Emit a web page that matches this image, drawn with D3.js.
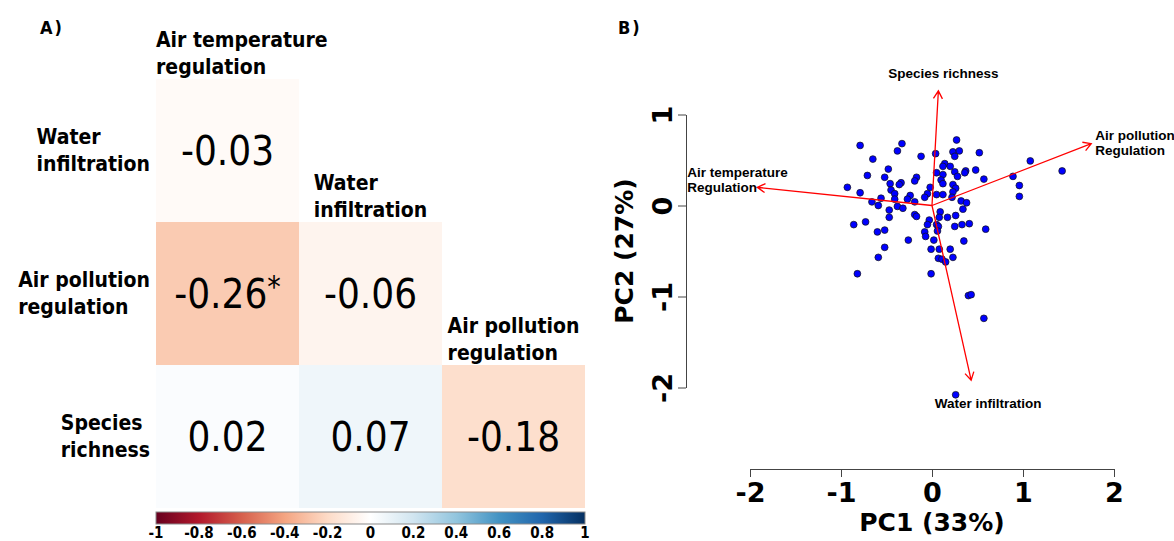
<!DOCTYPE html>
<html>
<head>
<meta charset="utf-8">
<script src="https://cdn.jsdelivr.net/npm/d3@7"></script>
<style>
  body { margin: 0; background: #fff; }
  svg { display: block; }
</style>
</head>
<body>
<div id="chart"></div>
<script>
// ---- Panel A data: correlation matrix (lower triangle) ----
const colVars = ['Air temperature regulation', 'Water infiltration', 'Air pollution regulation'];
const rowVars = ['Water infiltration', 'Air pollution regulation', 'Species richness'];
const colLines = [['Air temperature', 'regulation'], ['Water', 'infiltration'], ['Air pollution', 'regulation']];
const rowLines = [['Water', 'infiltration'], ['Air pollution', 'regulation'], ['Species', 'richness']];

const cellRow = [0, 1, 1, 2, 2, 2];
const cellCol = [0, 0, 1, 0, 1, 2];
const cellValue = [-0.03, -0.26, -0.06, 0.02, 0.07, -0.18];
const cellSig = [false, true, false, false, false, false];

const colorbarTicks = [-1, -0.8, -0.6, -0.4, -0.2, 0, 0.2, 0.4, 0.6, 0.8, 1];
const rdbuDomain = [-1, -0.8, -0.6, -0.4, -0.2, 0, 0.2, 0.4, 0.6, 0.8, 1];
const rdbuColors = ['#67001F', '#B2182B', '#D6604D', '#F4A582', '#FDDBC7', '#FFFFFF',
                    '#D1E5F0', '#92C5DE', '#4393C3', '#2166AC', '#053061'];

// ---- Panel B data: PCA scores and loadings ----
const pc1 = [
  -0.79, -0.33, -0.38, -0.65, -0.12, -0.48, -0.71, -0.52, -0.17, -0.19,
  -0.46, -0.34, -0.36, -0.93, -0.45, -0.79, -0.41, -0.24, -0.02, -0.05,
  -0.08, -0.56, -0.27, -0.41, -0.19, -0.66, -0.59, -0.38, -0.32, -0.47,
  0.27, 0.04, 0.23, 0.30, 0.25, 0.52, 1.08, 0.14, 0.12, 0.20,
  0.05, 0.12, 0.25, 0.37, 0.36, 0.48, 0.28, 0.10, 0.12, 0.23,
  0.57, 0.89, 0.96, 0.26, 0.23, 0.05, 0.12, 0.22, 0.96, 0.32,
  0.38, 0.34, 1.43,
  -0.47, -0.19, -0.17, -0.86, -0.73, -0.03, -0.05, -0.60, -0.52, -0.08,
  -0.07, 0.02, -0.26, -0.52, -0.01, -0.59, -0.82, -0.01,
  0.09, 0.08, 0.17, 0.26, 0.05, 0.07, 0.25, 0.33, 0.41, 0.06,
  0.59, 0.35, 0.08, 0.20, 0.07, 0.11, 0.15, 0.23,
  0.40, 0.43, 0.57, 0.26
];
const pc2 = [
  0.66, 0.68, 0.60, 0.51, 0.54, 0.40, 0.33, 0.31, 0.31, 0.27,
  0.24, 0.25, 0.23, 0.20, 0.17, 0.14, 0.13, 0.11, 0.20, 0.13,
  0.09, 0.08, 0.07, 0.07, 0.04, 0.04, 0.00, -0.01, -0.03, -0.05,
  0.72, 0.57, 0.59, 0.60, 0.54, 0.58, 0.49, 0.46, 0.43, 0.43,
  0.36, 0.34, 0.37, 0.38, 0.36, 0.39, 0.32, 0.28, 0.24, 0.23,
  0.29, 0.32, 0.22, 0.19, 0.15, 0.12, 0.12, 0.09, 0.10, 0.05,
  0.03, -0.04, 0.38,
  -0.13, -0.10, -0.12, -0.21, -0.18, -0.16, -0.21, -0.29, -0.27, -0.29,
  -0.34, -0.38, -0.38, -0.46, -0.48, -0.57, -0.75, -0.75,
  -0.07, -0.13, -0.13, -0.11, -0.21, -0.23, -0.23, -0.21, -0.20, -0.28,
  -0.26, -0.39, -0.48, -0.48, -0.58, -0.59, -0.62, -0.57,
  -0.99, -0.98, -1.24, -2.08
];

const loadVars = ['Air temperature', 'Water infiltration', 'Air pollution', 'Species richness'];
const loadLines = [['Air temperature', 'Regulation'], ['Water infiltration'], ['Air pollution', 'Regulation'], ['Species richness']];
const loadPC1 = [-1.92, 0.43, 1.75, 0.07];
const loadPC2 = [0.20, -1.92, 0.68, 1.26];

const xTicks = [-2, -1, 0, 1, 2];
const yTicks = [-2, -1, 0, 1];

// ---- Setup ----
const width = 1174, height = 541;
const fontA = "'DejaVu Sans Condensed', 'DejaVu Sans', sans-serif";
const fontB = "'DejaVu Sans', sans-serif";
const fontLbl = "'Liberation Sans', Arial, sans-serif";

const svg = d3.select('#chart').append('svg')
    .attr('width', width)
    .attr('height', height);

svg.append('rect').attr('width', width).attr('height', height).attr('fill', '#fff');

// =================== Panel A ===================
const gA = svg.append('g');

const xBand = d3.scaleBand().domain(colVars).range([156, 585]);
const yBand = d3.scaleBand().domain(rowVars).range([79, 508]);
const corrColor = d3.scaleLinear().domain(rdbuDomain).range(rdbuColors);

gA.append('text')
    .attr('x', 40).attr('y', 34)
    .attr('font-family', fontA).attr('font-stretch', 'condensed')
    .attr('font-weight', 'bold').attr('font-size', 18)
    .attr('letter-spacing', 2)
    .text('A)');

// cells
cellValue.forEach((v, i) => {
    const cx = xBand(colVars[cellCol[i]]);
    const cy = yBand(rowVars[cellRow[i]]);
    gA.append('rect')
        .attr('x', cx).attr('y', cy)
        .attr('width', xBand.bandwidth()).attr('height', yBand.bandwidth())
        .attr('fill', corrColor(v));

    const t = gA.append('text')
        .attr('x', cx + xBand.bandwidth() / 2)
        .attr('y', cy + yBand.bandwidth() / 2 + 14)
        .attr('text-anchor', 'middle')
        .attr('font-family', fontA).attr('font-stretch', 'condensed')
        .attr('font-size', 40)
        .attr('fill', '#000');
    t.append('tspan').text(v.toFixed(2));
    if (cellSig[i]) {
        t.append('tspan').attr('font-size', 30).attr('dy', -11).text('*');
    }
});

// row labels: left-aligned block, right edge next to the grid
rowVars.forEach((name, i) => {
    const t = gA.append('text')
        .attr('font-family', fontA).attr('font-stretch', 'condensed')
        .attr('font-weight', 'bold').attr('font-size', 21);
    const mid = yBand(name) + yBand.bandwidth() / 2;
    const spans = rowLines[i].map((line, k) =>
        t.append('tspan').attr('y', mid - 7 + k * 27.5).text(line));
    const maxW = d3.max(spans, s => s.node().getComputedTextLength());
    spans.forEach(s => s.attr('x', xBand.range()[0] - 6 - maxW));
});

// column labels: sit just above the first cell of each column
colVars.forEach((name, j) => {
    const t = gA.append('text')
        .attr('font-family', fontA).attr('font-stretch', 'condensed')
        .attr('font-weight', 'bold').attr('font-size', 21);
    const top = yBand(rowVars[j]);
    const n = colLines[j].length;
    const spans = colLines[j].map((line, k) =>
        t.append('tspan').attr('y', top - 5 - (n - 1 - k) * 27).text(line));
    const maxW = d3.max(spans, s => s.node().getComputedTextLength());
    const left = xBand(name);
    const center = left + xBand.bandwidth() / 2;
    spans.forEach(s => s.attr('x', Math.max(left, center - maxW / 2)));
});

// colour bar
const cbScale = d3.scaleLinear().domain([-1, 1]).range([156, 585]);
const defs = svg.append('defs');
const grad = defs.append('linearGradient').attr('id', 'rdbu')
    .attr('x1', '0%').attr('x2', '100%').attr('y1', '0%').attr('y2', '0%');
rdbuDomain.forEach((d, i) => {
    grad.append('stop')
        .attr('offset', ((d + 1) / 2 * 100) + '%')
        .attr('stop-color', rdbuColors[i]);
});
gA.append('rect')
    .attr('x', cbScale(-1)).attr('y', 512)
    .attr('width', cbScale(1) - cbScale(-1)).attr('height', 12)
    .attr('fill', 'url(#rdbu)')
    .attr('stroke', '#8a8a8a').attr('stroke-width', 1);

gA.selectAll('.cb-label')
    .data(colorbarTicks)
    .enter()
    .append('text')
    .attr('class', 'cb-label')
    .attr('x', d => cbScale(d))
    .attr('y', 538)
    .attr('text-anchor', 'middle')
    .attr('font-family', fontA).attr('font-stretch', 'condensed')
    .attr('font-weight', 'bold').attr('font-size', 15)
    .text(d => String(d));

// =================== Panel B ===================
const gB = svg.append('g');

const xScale = d3.scaleLinear().domain([-2, 2]).range([750, 1114]);
const yScale = d3.scaleLinear().domain([-2, 1]).range([387.5, 114.5]);

gB.append('text')
    .attr('x', 618).attr('y', 34)
    .attr('font-family', fontA).attr('font-stretch', 'condensed')
    .attr('font-weight', 'bold').attr('font-size', 18)
    .attr('letter-spacing', 2)
    .text('B)');

// x axis
const xAxisG = gB.append('g')
    .attr('transform', 'translate(0,469)')
    .call(d3.axisBottom(xScale)
        .tickValues(xTicks)
        .tickSize(8)
        .tickSizeOuter(0)
        .tickPadding(6)
        .tickFormat(d => String(d)));
xAxisG.selectAll('path, line').attr('stroke', '#444');
xAxisG.selectAll('text')
    .attr('font-family', fontB).attr('font-weight', 'bold')
    .attr('font-size', 27).attr('fill', '#000');

// y axis
const yAxisG = gB.append('g')
    .attr('transform', 'translate(686,0)')
    .call(d3.axisLeft(yScale)
        .tickValues(yTicks)
        .tickSize(8)
        .tickSizeOuter(0)
        .tickFormat(d => String(d)));
yAxisG.selectAll('path, line').attr('stroke', '#444');
yAxisG.selectAll('text')
    .attr('x', 0).attr('dy', 0)
    .attr('text-anchor', 'middle')
    .attr('transform', 'translate(-14,0) rotate(-90)')
    .attr('font-family', fontB).attr('font-weight', 'bold')
    .attr('font-size', 27).attr('fill', '#000');

// axis titles
gB.append('text')
    .attr('x', xScale(0)).attr('y', 531)
    .attr('text-anchor', 'middle')
    .attr('font-family', fontB).attr('font-weight', 'bold').attr('font-size', 25)
    .text('PC1 (33%)');

gB.append('text')
    .attr('transform', `translate(633,${(yScale(-2) + yScale(1)) / 2}) rotate(-90)`)
    .attr('text-anchor', 'middle')
    .attr('font-family', fontB).attr('font-weight', 'bold').attr('font-size', 25)
    .text('PC2 (27%)');

// scores
gB.selectAll('.dot')
    .data(pc1.map((d, i) => ({ x: d, y: pc2[i] })))
    .enter()
    .append('circle')
    .attr('class', 'dot')
    .attr('cx', d => xScale(d.x))
    .attr('cy', d => yScale(d.y))
    .attr('r', 3.4)
    .attr('fill', '#0000ff')
    .attr('stroke', '#111')
    .attr('stroke-width', 0.7);

// loadings arrows
const x0 = xScale(0), y0 = yScale(0);
const headLen = 9, headAng = Math.PI / 6;
loadVars.forEach((name, i) => {
    const x1 = xScale(loadPC1[i]), y1 = yScale(loadPC2[i]);
    const a = Math.atan2(y1 - y0, x1 - x0);
    const p = d3.path();
    p.moveTo(x0, y0); p.lineTo(x1, y1);
    p.moveTo(x1 - headLen * Math.cos(a - headAng), y1 - headLen * Math.sin(a - headAng));
    p.lineTo(x1, y1);
    p.lineTo(x1 - headLen * Math.cos(a + headAng), y1 - headLen * Math.sin(a + headAng));
    gB.append('path')
        .attr('d', p.toString())
        .attr('fill', 'none')
        .attr('stroke', '#ff0000')
        .attr('stroke-width', 1.3);
});

// arrow labels, placed relative to each tip
const labelPlace = {
    'Air temperature': { anchor: 'start', dx: -70, dy: -10 },
    'Water infiltration': { anchor: 'middle', dx: 17, dy: 28 },
    'Air pollution': { anchor: 'start', dx: 4, dy: -4 },
    'Species richness': { anchor: 'middle', dx: 5, dy: -12.5 }
};
loadVars.forEach((name, i) => {
    const pl = labelPlace[name];
    const x1 = xScale(loadPC1[i]) + pl.dx, y1 = yScale(loadPC2[i]) + pl.dy;
    const t = gB.append('text')
        .attr('text-anchor', pl.anchor)
        .attr('font-family', fontLbl).attr('font-weight', 'bold').attr('font-size', 13.5)
        .attr('fill', '#000');
    loadLines[i].forEach((line, k) => {
        t.append('tspan').attr('x', x1).attr('y', y1 + k * 15).text(line);
    });
});
</script>
</body>
</html>
